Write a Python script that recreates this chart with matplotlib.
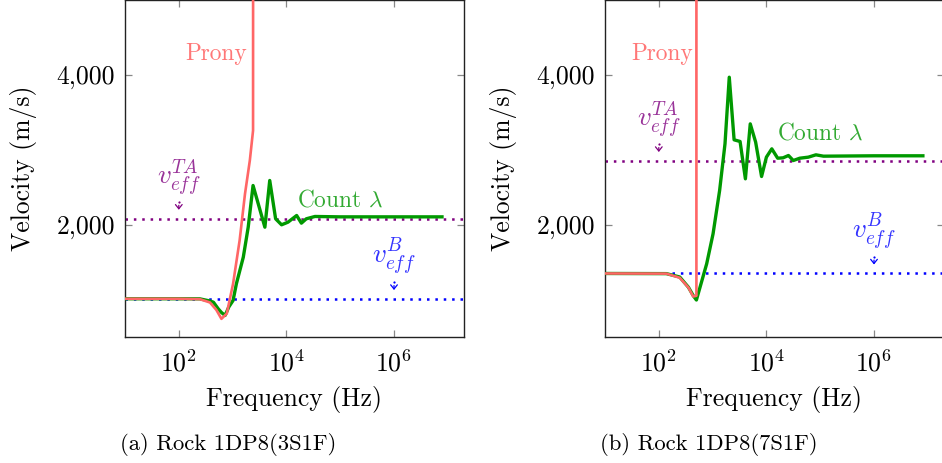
import matplotlib
matplotlib.use('Agg')
import matplotlib.pyplot as plt
from matplotlib.ticker import FuncFormatter, NullLocator
from matplotlib.transforms import offset_copy
import numpy as np

plt.rcParams['font.family'] = 'serif'
plt.rcParams['font.serif'] = ['cmr10']
plt.rcParams['mathtext.fontset'] = 'cm'
plt.rcParams['axes.formatter.use_mathtext'] = True
plt.rcParams['axes.unicode_minus'] = False

# (a) Rock 1DP8(3S1F)
freq_a_count = [10, 100, 245, 380, 440, 540, 620, 725, 850, 1020, 1175, 1580, 1950, 2400,
                3980, 4900, 6300, 8130, 10700, 15500, 19000, 23400, 33900, 1e5, 1e6, 7.8e6]
vel_a_count = [1010, 1010, 1009, 980, 964, 876, 827, 787, 900, 987, 1209, 1564, 1964, 2520,
               1964, 2587, 2076, 1996, 2031, 2120, 2018, 2076, 2107, 2102, 2102, 2102]
freq_a_prony = [10, 100, 245, 380, 500, 620, 780, 1020, 1350, 1700, 2090, 2400, 2520]
vel_a_prony = [1010, 1010, 1005, 960, 860, 742, 813, 1209, 1787, 2409, 2853, 3253, 60000]
v_ta_a = 2080
v_b_a = 1010

# (b) Rock 1DP8(7S1F)
freq_b_count = [10, 138, 245, 355, 436, 500, 776, 1020, 1350, 1700, 2040, 2510, 3240, 4070,
                5010, 6310, 8130, 10000, 12600, 16200, 20400, 25700, 31600, 41700, 60300,
                83200, 115000, 1e6, 8.1e6]
vel_b_count = [1347, 1345, 1300, 1164, 1053, 993, 1476, 1876, 2453, 3076, 3964, 3129, 3107,
               2609, 3342, 3098, 2640, 2898, 3009, 2884, 2889, 2920, 2853, 2884, 2898, 2929,
               2911, 2916, 2916]
freq_b_prony = [10, 138, 245, 355, 436, 500, 502]
vel_b_prony = [1347, 1345, 1290, 1160, 1040, 1050, 60000]
v_ta_b = 2850
v_b_b = 1350

panels = [
    ('(a) Rock 1DP8(3S1F)', freq_a_count, vel_a_count, freq_a_prony, vel_a_prony, v_ta_a, v_b_a,
     (500, 4280), (1e5, 2320)),
    ('(b) Rock 1DP8(7S1F)', freq_b_count, vel_b_count, freq_b_prony, vel_b_prony, v_ta_b, v_b_b,
     (114, 4280), (1e5, 3213)),
]

red = '#ff6666'
green = '#009900'
purple = '#800080'
blue = '#0000ff'

fig = plt.figure(figsize=(9.42, 4.63), dpi=100)
lefts = [125 / 942, 605 / 942]

for left, (cap, fc, vc, fp, vp, vta, vb, prony_pos, count_pos) in zip(lefts, panels):
    ax = fig.add_axes([left, 1 - 337 / 463, 339 / 942, 337.5 / 463])
    ax.set_xscale('log')
    ax.set_xlim(10, 2e7)
    ax.set_ylim(500, 5000)

    ax.axhline(vta, color=purple, lw=1.8, ls=(0, (1, 2.35)))
    ax.axhline(vb, color=blue, lw=1.8, ls=(0, (1, 2.35)))
    ax.plot(fc, vc, color=green, lw=2.4, zorder=3)
    ax.plot(fp, vp, color=red, lw=1.9, zorder=4)

    ax.text(prony_pos[0], prony_pos[1], 'Prony', color='#ff7777', fontsize=16.8,
            ha='center', va='center')
    ax.text(count_pos[0], count_pos[1], r'Count $\lambda$', color='#33aa33', fontsize=16.8,
            ha='center', va='center')

    dot_tr = offset_copy(ax.transData, fig=fig, x=0, y=12, units='points')
    for x, yl, lab, lc, tc in [(100, vta, r'$v_{eff}^{TA}$', purple, '#993399'),
                                (1e6, vb, r'$v_{eff}^{B}$', blue, '#3333ff')]:
        ax.annotate(lab, xy=(x, yl), xytext=(0, 30), textcoords='offset points',
                    ha='center', va='center', color=tc, fontsize=19.5)
        ax.plot([x], [yl], marker='o', ms=1.6, mew=0, color=lc, transform=dot_tr)
        ax.annotate('', xy=(x, yl), xytext=(0, 9.5), textcoords='offset points',
                    arrowprops=dict(arrowstyle='->,head_length=0.25,head_width=0.2',
                                    color=lc, lw=0.9, shrinkA=0, shrinkB=6.3,
                                    mutation_scale=12))

    ax.set_xticks([1e2, 1e4, 1e6])
    ax.xaxis.set_minor_locator(NullLocator())
    ax.set_yticks([2000, 4000])
    ax.yaxis.set_major_formatter(FuncFormatter(lambda v, p: f'{int(v):,}'))
    ax.tick_params(direction='in', length=5, width=0.9, color='#888888',
                   top=True, right=True, labelsize=18.5)
    ax.tick_params(axis='x', pad=9)
    ax.tick_params(axis='y', pad=7)
    for s in ax.spines.values():
        s.set_linewidth(1.0)
        s.set_color('#222222')

    ax.set_xlabel('Frequency (Hz)', fontsize=18.5)
    ax.xaxis.set_label_coords(0.5, -0.145)
    ax.set_ylabel('Velocity (m/s)', fontsize=18.5)
    ax.yaxis.set_label_coords(-0.26, 0.5)

    fig.text(left - 5 / 942, 1 - 450 / 463, cap, fontsize=16.3, ha='left', va='baseline')

fig.savefig('out.png', dpi=100)
